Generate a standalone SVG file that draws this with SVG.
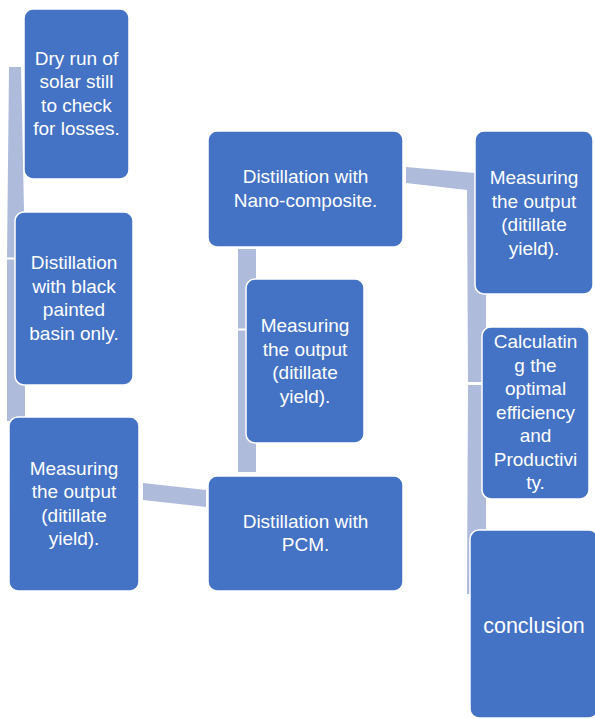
<svg xmlns="http://www.w3.org/2000/svg" width="595" height="719" viewBox="0 0 595 719">
<style>
.bx{fill:#4472C4;stroke:#FFFFFF;stroke-width:1.5}
.cn{fill:#AFBBDB}
.t{font-family:"Liberation Sans",Arial,sans-serif;font-size:19px;fill:#FFFFFF;text-anchor:middle}
.t2{font-family:"Liberation Sans",Arial,sans-serif;font-size:21.5px;fill:#FFFFFF;text-anchor:middle}
</style>
<rect width="595" height="719" fill="#FFFFFF"/>
<g id="connectors">
<polygon class="cn" points="9,67 21,67 25,257.5 7,257.5"/>
<polygon class="cn" points="7,259.5 25,259.5 25,421 7,421"/>
<polygon class="cn" points="238,249 256,249 256,328.5 238,328.5"/>
<polygon class="cn" points="238,330.5 256,330.5 256,472 238,472"/>
<polygon class="cn" points="143,483 206,490 206,507 143,500"/>
<polygon class="cn" points="406,167 486,174 486,382 468,382 467,190 406,183"/>
<polygon class="cn" points="468,385 486,385 486,594 467,594"/>
</g>
<g id="n1"><rect class="bx" x="24" y="9" width="105" height="170" rx="9"/>
<text class="t" x="76.5"><tspan x="76.5" y="64.5">Dry run of</tspan><tspan x="76.5" y="88">solar still</tspan><tspan x="76.5" y="111.5">to check</tspan><tspan x="76.5" y="135">for losses.</tspan></text></g>
<g id="n2"><rect class="bx" x="15" y="212" width="118" height="173" rx="9"/>
<text class="t"><tspan x="74" y="269">Distillation</tspan><tspan x="74" y="292.5">with black</tspan><tspan x="74" y="316">painted</tspan><tspan x="74" y="339.5">basin only.</tspan></text></g>
<g id="n3"><rect class="bx" x="9" y="417" width="130" height="174" rx="9"/>
<text class="t"><tspan x="74" y="474.5">Measuring</tspan><tspan x="74" y="498">the output</tspan><tspan x="74" y="521.5">(ditillate</tspan><tspan x="74" y="545">yield).</tspan></text></g>
<g id="n4"><rect class="bx" x="208" y="476" width="195" height="115" rx="9"/>
<text class="t"><tspan x="305.5" y="527.5">Distillation with</tspan><tspan x="305.5" y="551">PCM.</tspan></text></g>
<g id="n5"><rect class="bx" x="246" y="279" width="118" height="164" rx="9"/>
<text class="t"><tspan x="305" y="332">Measuring</tspan><tspan x="305" y="355.5">the output</tspan><tspan x="305" y="379">(ditillate</tspan><tspan x="305" y="402.5">yield).</tspan></text></g>
<g id="n6"><rect class="bx" x="208" y="131" width="195" height="116" rx="9"/>
<text class="t"><tspan x="305.5" y="183">Distillation with</tspan><tspan x="305.5" y="206.5">Nano-composite.</tspan></text></g>
<g id="n7"><rect class="bx" x="475" y="131" width="118" height="163" rx="9"/>
<text class="t"><tspan x="534" y="184">Measuring</tspan><tspan x="534" y="207.5">the output</tspan><tspan x="534" y="231">(ditillate</tspan><tspan x="534" y="254.5">yield).</tspan></text></g>
<g id="n8"><rect class="bx" x="482" y="327" width="107" height="172" rx="9"/>
<text class="t"><tspan x="535.5" y="348">Calculatin</tspan><tspan x="535.5" y="371.5">g the</tspan><tspan x="535.5" y="395">optimal</tspan><tspan x="535.5" y="418.5">efficiency</tspan><tspan x="535.5" y="442">and</tspan><tspan x="535.5" y="465.5">Productivi</tspan><tspan x="535.5" y="489">ty.</tspan></text></g>
<g id="n9"><rect class="bx" x="470" y="530" width="128" height="188" rx="9"/>
<text class="t2" x="534" y="633">conclusion</text></g>
</svg>
